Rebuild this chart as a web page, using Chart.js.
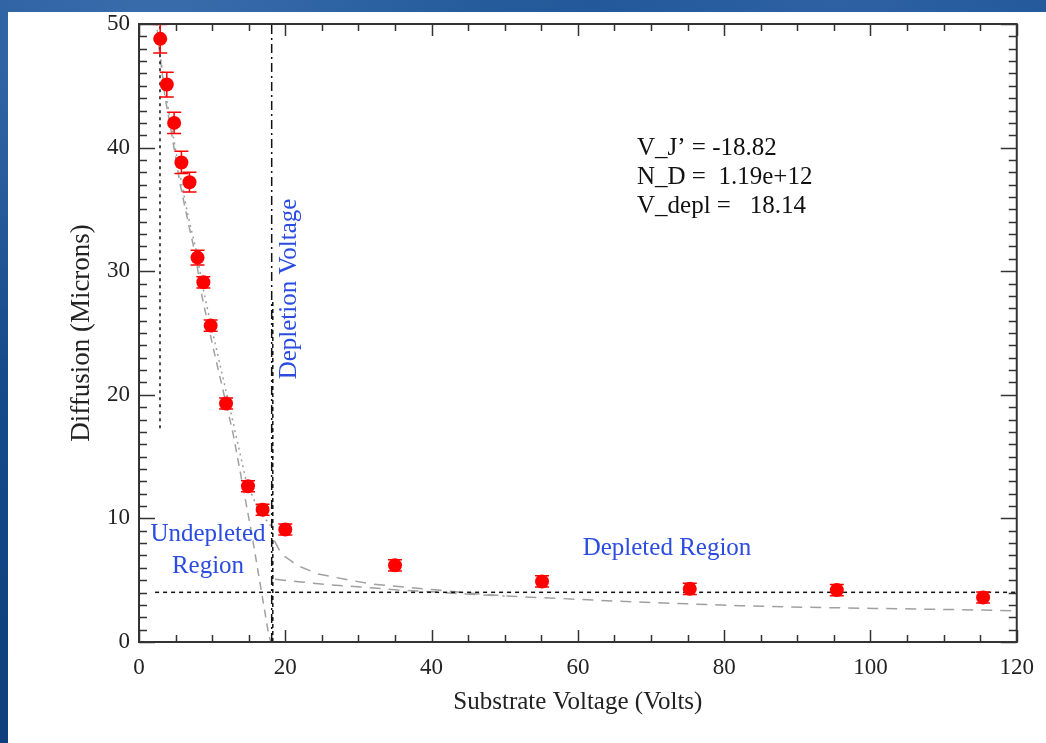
<!DOCTYPE html>
<html>
<head>
<meta charset="utf-8">
<script src="https://cdn.jsdelivr.net/npm/chart.js@4.4.1/dist/chart.umd.min.js"></script>
<style>
  html, body { margin: 0; padding: 0; }
  body {
    width: 1046px; height: 743px; overflow: hidden; position: relative;
    background:
      radial-gradient(ellipse at 15% 5%, rgba(90,140,200,0.45) 0, rgba(90,140,200,0) 35%),
      radial-gradient(ellipse at 80% 0%, rgba(70,120,190,0.35) 0, rgba(70,120,190,0) 30%),
      linear-gradient(180deg, #1f5596 0%, #164a8a 50%, #0f3f7c 100%);
  }
  #panel { position: absolute; left: 8px; top: 12px; right: 0; bottom: 0; background: #fff; }
  #wrap { position: absolute; left: 0; top: 0; width: 1046px; height: 743px; }
</style>
</head>
<body>
<div id="panel"></div>
<div id="wrap"><canvas id="chart"></canvas></div>
<script>
// Misure (punti rossi con barre d'errore)
const voltages  = [2.9, 3.8, 4.8, 5.8, 6.9, 8.0, 8.8, 9.8, 11.9, 14.9, 16.9, 20.0, 35.0, 55.1, 75.3, 95.4, 115.4];
const diffusion = [48.8, 45.1, 42.0, 38.8, 37.2, 31.1, 29.1, 25.6, 19.3, 12.6, 10.7, 9.1, 6.2, 4.9, 4.3, 4.2, 3.6];
const diffErr   = [1.15, 1.0, 0.85, 0.9, 0.8, 0.6, 0.45, 0.45, 0.45, 0.45, 0.45, 0.45, 0.45, 0.45, 0.45, 0.45, 0.45];

// Curva di fit tratteggiata (regione non svuotata)
const fitDashX = [2.3, 2.9, 3.55, 4.5, 5.6, 6.7, 7.65, 8.6, 10.1, 12.85, 15.4, 17.7, 18.0];
const fitDashY = [50.5, 47.3, 44.1, 41.0, 37.1, 34.0, 31.5, 28.0, 23.9, 16.9, 8.8, 0.7, 0.0];
// Curva di fit punteggiata
const fitDotX = [2.3, 2.9, 3.6, 4.5, 5.6, 6.7, 7.7, 8.7, 9.7, 12.4, 14.7, 16.4, 18.14];
const fitDotY = [50.5, 47.5, 44.5, 41.5, 37.8, 34.5, 32.0, 28.8, 26.0, 19.0, 12.9, 10.6, 9.3];
// Curve nella regione svuotata
const deplUpX = [18.5, 19.5, 21.8, 24.5, 28.2, 31.8, 36.4, 40.9, 46.4, 51.8, 57.3, 63.9, 73.0, 82.1, 91.3, 100.4, 109.5, 120];
const deplUpY = [8.2, 7.1, 6.15, 5.5, 5.07, 4.69, 4.43, 4.2, 3.88, 3.67, 3.53, 3.34, 3.13, 2.94, 2.81, 2.72, 2.64, 2.53];
const deplLowX = [18.6, 21.8, 26.3, 30.9, 35.4, 40.0, 44.6, 50.0];
const deplLowY = [5.07, 4.88, 4.61, 4.43, 4.2, 4.07, 3.88, 3.72];

// Parametri del fit
const vJ = -18.82;
const nD = '1.19e+12';
const vDepl = 18.14;
const diffFloor = 4.02;
const leftMarkV = 2.87;

const xTicks = [0, 20, 40, 60, 80, 100, 120];
const yTicks = [0, 10, 20, 30, 40, 50];

const toPts = (xs, ys) => xs.map((x, i) => ({ x: x, y: ys[i] }));

const GRAY = '#a0a0a0';
const BLUE = '#2b4ce0';
const SERIF = '"Liberation Serif", "DejaVu Serif", serif';

function lineSet(data, color, dash, width, order) {
  return {
    type: 'line', data: data, borderColor: color, borderWidth: width,
    borderDash: dash, pointRadius: 0, fill: false, tension: 0, order: order
  };
}

// Tacche interne sui quattro lati, cornice, barre d'errore e testi
const framePlugin = {
  id: 'frame',
  afterDatasetsDraw(chart) {
    const ctx = chart.ctx;
    const xs = chart.scales.x, ys = chart.scales.y;
    ctx.save();
    ctx.strokeStyle = '#ff0000';
    ctx.lineWidth = 1.5;
    voltages.forEach((v, i) => {
      const px = xs.getPixelForValue(v);
      const top = ys.getPixelForValue(diffusion[i] + diffErr[i]);
      const bot = ys.getPixelForValue(diffusion[i] - diffErr[i]);
      ctx.beginPath();
      ctx.moveTo(px, top); ctx.lineTo(px, bot);
      ctx.moveTo(px - 7, top); ctx.lineTo(px + 7, top);
      ctx.moveTo(px - 7, bot); ctx.lineTo(px + 7, bot);
      ctx.stroke();
    });
    ctx.restore();
  },
  afterDraw(chart) {
    const ctx = chart.ctx;
    const a = chart.chartArea;
    const xs = chart.scales.x, ys = chart.scales.y;
    ctx.save();
    ctx.strokeStyle = '#333';
    ctx.lineWidth = 1.5;
    ctx.beginPath();
    for (let v = 0; v <= 120; v += 5) {
      const px = Math.round(xs.getPixelForValue(v)) + 0.5;
      const len = v % 20 === 0 ? 12 : 7;
      ctx.moveTo(px, a.bottom); ctx.lineTo(px, a.bottom - len);
      ctx.moveTo(px, a.top); ctx.lineTo(px, a.top + len);
    }
    for (let v = 0; v <= 50; v += 1) {
      const py = Math.round(ys.getPixelForValue(v)) + 0.5;
      const len = v % 10 === 0 ? 16 : 8;
      ctx.moveTo(a.left, py); ctx.lineTo(a.left + len, py);
      ctx.moveTo(a.right, py); ctx.lineTo(a.right - len, py);
    }
    ctx.stroke();
    ctx.lineWidth = 2;
    ctx.strokeRect(a.left, a.top, a.right - a.left, a.bottom - a.top);

    // Testi
    ctx.fillStyle = '#111';
    ctx.font = '25px ' + SERIF;
    ctx.textAlign = 'left';
    ctx.textBaseline = 'alphabetic';
    ctx.fillText('V_J\u2019 = ' + vJ.toFixed(2), 637, 155);
    ctx.fillText('N_D =  ' + nD, 637, 184);
    ctx.fillText('V_depl =   ' + vDepl.toFixed(2), 637, 213);

    ctx.fillStyle = BLUE;
    ctx.font = '25px ' + SERIF;
    ctx.textAlign = 'center';
    ctx.textBaseline = 'middle';
    ctx.fillText('Undepleted', 208, 534);
    ctx.fillText('Region', 208, 566);
    ctx.fillText('Depleted Region', 667, 548);
    ctx.translate(289, 289);
    ctx.rotate(-Math.PI / 2);
    ctx.fillText('Depletion Voltage', 0, 0);
    ctx.restore();
  }
};

new Chart(document.getElementById('chart'), {
  type: 'scatter',
  data: {
    datasets: [
      {
        type: 'scatter', data: toPts(voltages, diffusion),
        backgroundColor: '#ff0000', borderWidth: 0, pointRadius: 7, order: 0
      },
      lineSet(toPts([vDepl, vDepl], [0, 50]), '#111', [9, 4, 2, 4], 1.5, 1),
      lineSet(toPts([vDepl + 0.15, vDepl + 0.15], [0, 27.5]), '#111', [4, 3], 1.5, 1),
      lineSet(toPts([leftMarkV, leftMarkV], [17.3, 50]), '#111', [3, 4], 1.5, 1),
      lineSet(toPts([2.2, 120], [diffFloor, diffFloor]), '#111', [4, 4], 1.5, 1),
      lineSet(toPts(fitDashX, fitDashY), GRAY, [8, 6], 1.5, 2),
      lineSet(toPts(fitDotX, fitDotY), GRAY, [2, 4], 1.5, 2),
      lineSet(toPts(deplUpX, deplUpY), GRAY, [11, 8], 1.5, 2),
      lineSet(toPts(deplLowX, deplLowY), GRAY, [11, 8], 1.5, 2),
      lineSet(toPts([18.6, 120], [0, 0]), GRAY, [11, 8], 1.5, 2)
    ]
  },
  options: {
    responsive: true,
    maintainAspectRatio: false,
    animation: false,
    layout: { padding: { top: 24, right: 29, left: 0, bottom: 0 } },
    plugins: { legend: { display: false }, tooltip: { enabled: false } },
    scales: {
      x: {
        type: 'linear', min: 0, max: 120,
        afterBuildTicks: s => { s.ticks = xTicks.map(v => ({ value: v })); },
        afterFit: s => { s.height = 101; },
        grid: { display: false, drawTicks: false },
        border: { display: false },
        ticks: { color: '#222', padding: 12, font: { family: SERIF, size: 23 } },
        title: {
          display: true, text: 'Substrate Voltage (Volts)', color: '#222',
          font: { family: SERIF, size: 25 }, padding: { top: 0, bottom: 26 }
        }
      },
      y: {
        type: 'linear', min: 0, max: 50,
        afterBuildTicks: s => { s.ticks = yTicks.map(v => ({ value: v })); },
        afterFit: s => { s.width = 139; },
        grid: { display: false, drawTicks: false },
        border: { display: false },
        ticks: { color: '#222', padding: 9, font: { family: SERIF, size: 23 } },
        title: {
          display: true, text: 'Diffusion (Microns)', color: '#222',
          font: { family: SERIF, size: 27 }, padding: { top: 66, bottom: 0 }
        }
      }
    }
  },
  plugins: [framePlugin]
});
</script>
</body>
</html>
